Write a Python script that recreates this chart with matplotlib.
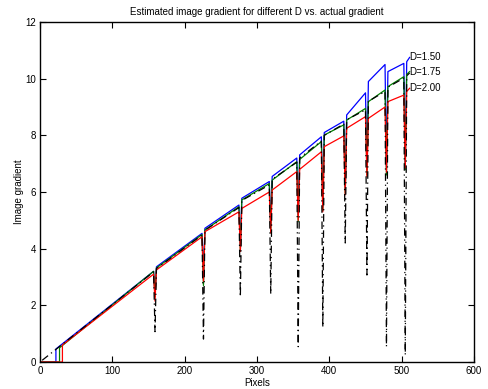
import matplotlib
matplotlib.use("Agg")
import matplotlib.pyplot as plt

plt.rcParams['font.family'] = ['Liberation Sans', 'DejaVu Sans']

# x positions of the dips (pixels)
dip_x = [159, 226, 277, 319, 357, 391, 422, 452, 479, 505]
end_x = 511

# D = 1.50 (blue)
blue_rise = (22, 0.46)
blue_ends = [3.2, 4.54, 5.54, 6.37, 7.2, 7.95, 8.5, 9.5, 10.5, 10.54, 10.75]
blue_starts = [3.36, 4.72, 5.78, 6.55, 7.31, 8.1, 8.72, 9.9, 10.25, 10.6]
blue_mins = [2.4, 3.1, 4.1, 4.8, 5.2, 5.5, 6.1, 6.8, 6.9, 7.0]

# D = 1.75 (green)
green_rise = (27, 0.5)
green_ends = [3.2, 4.5, 5.48, 6.3, 7.07, 7.78, 8.37, 8.95, 9.6, 10.07, 10.25]
green_starts = [3.32, 4.66, 5.72, 6.42, 7.15, 8.01, 8.54, 9.19, 9.72, 10.15]
green_mins = [2.3, 2.7, 3.95, 4.6, 4.95, 5.35, 5.95, 6.6, 6.6, 6.78]

# D = 2.00 (red)
red_rise = (31, 0.6)
red_ends = [3.1, 4.42, 5.3, 6.0, 6.72, 7.42, 7.98, 8.66, 9.0, 9.42, 9.66]
red_starts = [3.25, 4.6, 5.42, 6.07, 6.8, 7.6, 8.25, 8.6, 9.19, 9.55]
red_mins = [2.15, 2.85, 3.9, 4.55, 5.0, 5.3, 5.9, 6.54, 6.7, 6.85]

# actual gradient (black)
black_first = (3, 0.06)
black_ends = [3.18, 4.48, 5.45, 6.25, 7.05, 7.8, 8.4, 8.9, 9.55, 10.02, 10.2]
black_starts = [3.3, 4.65, 5.7, 6.45, 7.2, 8.0, 8.55, 9.2, 9.7, 10.1]
black_mins = [1.07, 0.81, 2.3, 2.4, 0.54, 1.23, 4.2, 3.07, 0.54, 0.25]

labels = ["D=1.50", "D=1.75", "D=2.00"]


def build(first, ends, starts, mins, rise=True):
    if rise:
        xs = [0, first[0], first[0]]
        ys = [0, 0, first[1]]
    else:
        xs = [first[0]]
        ys = [first[1]]
    for i, d in enumerate(dip_x):
        xs += [d - 2, d, d + 2]
        ys += [ends[i], mins[i], starts[i]]
    xs.append(end_x)
    ys.append(ends[-1])
    return xs, ys


fig = plt.figure(figsize=(4.89, 3.89), dpi=100)
ax = fig.add_axes([0.0818, 0.0694, 0.8875, 0.874])

bx, by = build(blue_rise, blue_ends, blue_starts, blue_mins)
gx, gy = build(green_rise, green_ends, green_starts, green_mins)
rx, ry = build(red_rise, red_ends, red_starts, red_mins)
kx, ky = build(black_first, black_ends, black_starts, black_mins, rise=False)

ax.plot(bx, by, color=(0, 0, 1), lw=0.9)
ax.plot(gx, gy, color=(0, 0.5, 0), lw=0.9)
ax.plot(rx, ry, color=(1, 0, 0), lw=0.9)
ax.plot(kx, ky, color='k', lw=0.9, linestyle=(0, (6, 3, 1, 3)))

for lab, yv in zip(labels, [blue_ends[-1], green_ends[-1], red_ends[-1]]):
    ax.text(end_x, yv, lab, fontsize=7, ha='left', va='center')

ax.set_xlim(0, 600)
ax.set_ylim(0, 12)
ax.set_xticks(range(0, 601, 100))
ax.set_yticks(range(0, 13, 2))
ax.tick_params(direction='in', top=True, right=True, length=4, width=0.8,
               labelsize=7, pad=3)
for s in ax.spines.values():
    s.set_linewidth(1.0)

ax.set_title("Estimated image gradient for different D vs. actual gradient",
             fontsize=7, pad=5)
ax.set_xlabel("Pixels", fontsize=7, labelpad=1)
ax.set_ylabel("Image gradient", fontsize=7, labelpad=1)

fig.savefig("out.png", dpi=100)
